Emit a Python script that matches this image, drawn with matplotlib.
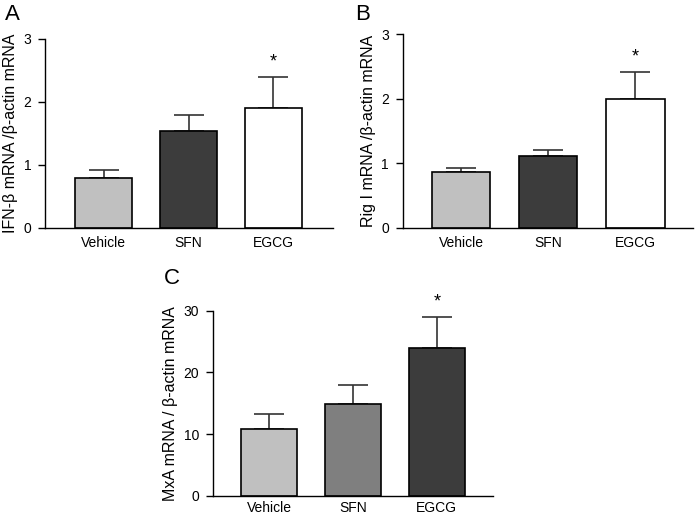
import numpy as np
import matplotlib
matplotlib.use("Agg")
import matplotlib.pyplot as plt

plt.rcParams["font.family"] = ["Liberation Sans", "DejaVu Sans"]

categorias = ["Vehicle", "SFN", "EGCG"]

# painel A: IFN-beta
ifn_media = [0.80, 1.54, 1.91]
ifn_erro = [0.12, 0.25, 0.48]
# painel B: Rig I
rig_media = [0.87, 1.11, 1.99]
rig_erro = [0.06, 0.10, 0.42]
# painel C: MxA
mxa_media = [10.9, 14.8, 23.9]
mxa_erro = [2.4, 3.1, 5.1]

cores_ab = ["#c0c0c0", "#3c3c3c", "#ffffff"]
cores_c = ["#c0c0c0", "#7f7f7f", "#3c3c3c"]

fig = plt.figure(figsize=(6.97, 5.17), dpi=100)


def painel(pos, media, erro, cores, ylabel, yticks, xlim, xpad=6):
    ax = fig.add_axes(pos)
    x = np.arange(len(categorias))
    ax.bar(x, media, width=0.67, color=cores, edgecolor="black", linewidth=1.2, zorder=2)
    ax.errorbar(x, media, yerr=[np.zeros(len(erro)), erro], fmt="none",
                ecolor="#333333", elinewidth=1.2, capsize=10.5, capthick=1.2, zorder=1)
    # asterisco sobre o EGCG
    ax.text(x[-1], media[-1] + erro[-1] + yticks[-1] * 0.08, "*", ha="center",
            va="center", fontsize=13)
    ax.set_xlim(*xlim)
    ax.set_ylim(0, yticks[-1])
    ax.set_yticks(yticks)
    ax.set_xticks(x)
    ax.set_xticklabels(categorias, fontsize=10)
    ax.tick_params(axis="x", length=0, pad=xpad)
    ax.tick_params(axis="y", length=5, width=1, labelsize=10, pad=5)
    ax.spines["top"].set_visible(False)
    ax.spines["right"].set_visible(False)
    ax.spines["left"].set_linewidth(1)
    ax.spines["bottom"].set_linewidth(1)
    ax.set_ylabel(ylabel, fontsize=11.5, labelpad=4)
    return ax


axA = painel([0.0646, 0.559, 0.413, 0.3656], ifn_media, ifn_erro, cores_ab,
             "IFN-β mRNA /β-actin mRNA", [0, 1, 2, 3], (-0.69, 2.70))
axB = painel([0.578, 0.559, 0.416, 0.375], rig_media, rig_erro, cores_ab,
             "Rig I mRNA /β-actin mRNA", [0, 1, 2, 3], (-0.67, 2.66))
axC = painel([0.3056, 0.0410, 0.4017, 0.3581], mxa_media, mxa_erro, cores_c,
             "MxA mRNA / β-actin mRNA", [0, 10, 20, 30], (-0.67, 2.67), xpad=4)

fig.text(5 / 697, 1 - 14 / 517, "A", fontsize=16, va="center", ha="left")
fig.text(355 / 697, 1 - 14 / 517, "B", fontsize=16, va="center", ha="left")
fig.text(164 / 697, 1 - 279 / 517, "C", fontsize=16, va="center", ha="left")

fig.savefig("out.png", dpi=100)
